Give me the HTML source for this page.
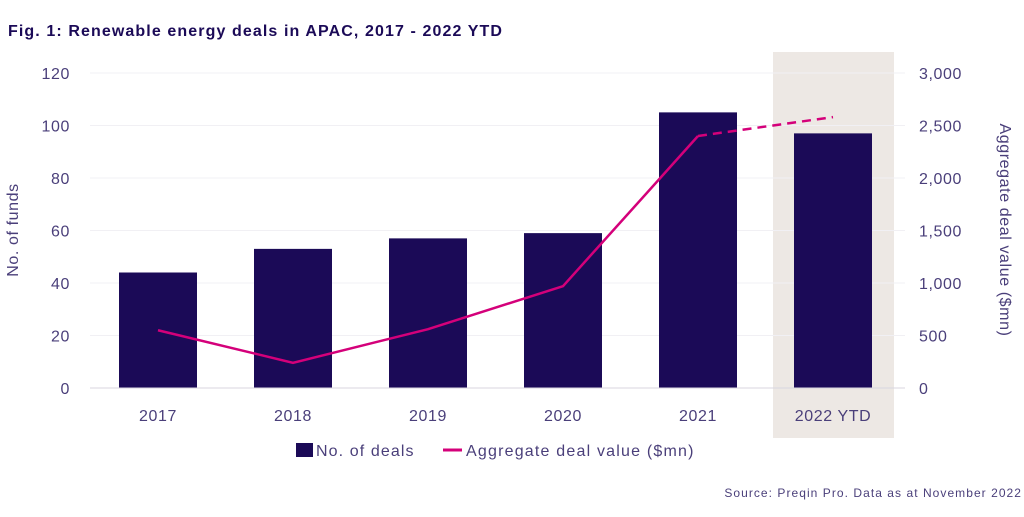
<!DOCTYPE html>
<html><head><meta charset="utf-8"><style>
body{margin:0;background:#fff;font-family:"Liberation Sans",sans-serif}
svg text{font-family:"Liberation Sans",sans-serif;letter-spacing:0.6px}
</style></head><body>
<svg id="chart" width="1024" height="512" viewBox="0 0 1024 512">
<text x="8" y="36" font-size="16" font-weight="bold" fill="#1b0a57" style="letter-spacing:1.1px">Fig. 1: Renewable energy deals in APAC, 2017 - 2022 YTD</text>
<rect x="773" y="52" width="121" height="386" fill="#ede8e4"/>
<g id="grid"></g><g id="bars"></g><g id="line"></g><g id="axes"></g>
<text transform="translate(18,230) rotate(-90)" text-anchor="middle" font-size="16" fill="#4a3f7a">No. of funds</text>
<text transform="translate(1000,230) rotate(90)" text-anchor="middle" font-size="16" fill="#4a3f7a">Aggregate deal value ($mn)</text>
<g>
<rect x="296" y="443" width="17" height="14" fill="#1b0a57"/>
<text x="316" y="456" font-size="16" fill="#4a3f7a" style="letter-spacing:1.1px">No. of deals</text>
<line x1="443" y1="450" x2="462" y2="450" stroke="#d4007a" stroke-width="3"/>
<text x="466" y="456" font-size="16" fill="#4a3f7a" style="letter-spacing:1.2px">Aggregate deal value ($mn)</text>
</g>
<text x="1022" y="497" text-anchor="end" font-size="12" fill="#4a3f7a" style="letter-spacing:1.05px">Source: Preqin Pro. Data as at November 2022</text>
</svg>
<script>
const categories=["2017","2018","2019","2020","2021","2022 YTD"];
const deals=[44,53,57,59,105,97];
const values=[550,240,560,970,2400,2580];
const leftTicks=[0,20,40,60,80,100,120];
const rightTicks=["0","500","1,000","1,500","2,000","2,500","3,000"];
const rightTickVals=[0,500,1000,1500,2000,2500,3000];
const NS="http://www.w3.org/2000/svg";
const y0=388,yTop=73;
const yL=v=>y0-(v/120)*(y0-yTop);
const yR=v=>y0-(v/3000)*(y0-yTop);
const xC=i=>158+i*135;
function mk(tag,attrs,parent){const e=document.createElementNS(NS,tag);for(const k in attrs)e.setAttribute(k,attrs[k]);parent.appendChild(e);return e;}
const grid=document.getElementById('grid'),bars=document.getElementById('bars'),line=document.getElementById('line'),axes=document.getElementById('axes');
leftTicks.forEach((t,i)=>{
 if(t>0){const g=mk('line',{x1:90,x2:905,y1:yL(t),y2:yL(t),stroke:'#f1f0f4','stroke-width':1},grid);
 
 }
 const tx=mk('text',{x:70,y:yL(t)+6,'text-anchor':'end','font-size':16,fill:'#4a3f7a'},axes);tx.textContent=t;
 
 
});
rightTickVals.forEach((v,i)=>{
 const tx=mk('text',{x:919,y:yR(v)+6,'font-size':16,fill:'#4a3f7a'},axes);tx.textContent=rightTicks[i];
 
 
});
const ax=mk('line',{x1:90,x2:905,y1:y0,y2:y0,stroke:'#d8d6df','stroke-width':1},axes);


categories.forEach((c,i)=>{
 const b=mk('rect',{x:xC(i)-39,y:yL(deals[i]),width:78,height:y0-yL(deals[i]),fill:'#1b0a57'},bars);
 
 
 const tx=mk('text',{x:xC(i),y:421,'text-anchor':'middle','font-size':16,fill:'#4a3f7a'},axes);tx.textContent=c;
 
 
});
const n=values.length;
const solid=values.slice(0,n-1).map((v,i)=>xC(i)+','+yR(v)).join(' ');
const pl=mk('polyline',{points:solid,fill:'none',stroke:'#d4007a','stroke-width':2.5},line);


const dl=mk('line',{x1:xC(n-2),y1:yR(values[n-2]),x2:xC(n-1),y2:yR(values[n-1]),stroke:'#d4007a','stroke-width':2.5,'stroke-dasharray':'9,6'},line);


</script>
</body></html>
